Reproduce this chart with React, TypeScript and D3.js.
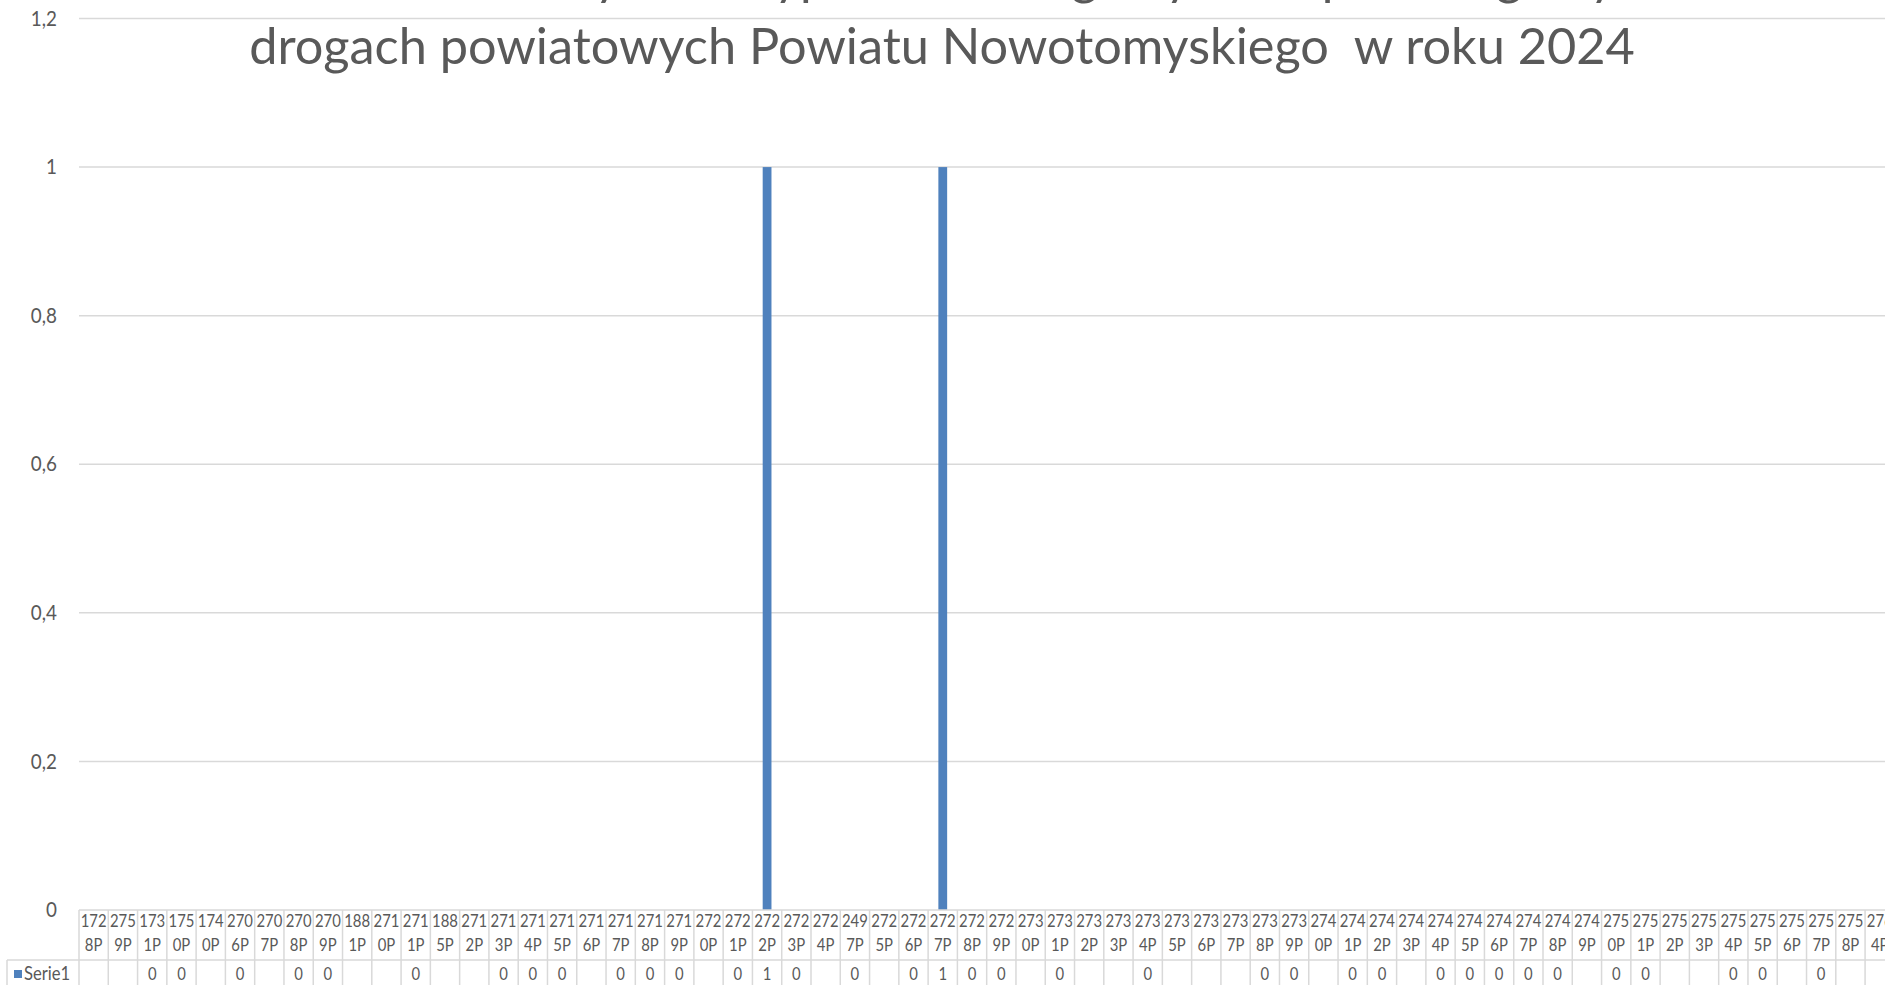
import { useRef, useEffect } from 'react';
import * as d3 from 'd3';

const categories = [
  '1728P', '2759P', '1731P', '1750P', '1740P', '2706P', '2707P', '2708P', '2709P', '1881P',
  '2710P', '2711P', '1885P', '2712P', '2713P', '2714P', '2715P', '2716P', '2717P', '2718P',
  '2719P', '2720P', '2721P', '2722P', '2723P', '2724P', '2497P', '2725P', '2726P', '2727P',
  '2728P', '2729P', '2730P', '2731P', '2732P', '2733P', '2734P', '2735P', '2736P', '2737P',
  '2738P', '2739P', '2740P', '2741P', '2742P', '2743P', '2744P', '2745P', '2746P', '2747P',
  '2748P', '2749P', '2750P', '2751P', '2752P', '2753P', '2754P', '2755P', '2756P', '2757P',
  '2758P', '2764P',
];

// null = empty cell in the data table
const serie1: (number | null)[] = [
  null, null, 0, 0, null, 0, null, 0, 0, null,
  null, 0, null, null, 0, 0, 0, null, 0, 0,
  0, null, 0, 1, 0, null, 0, null, 0, 1,
  0, 0, null, 0, null, null, 0, null, null, null,
  0, 0, null, 0, 0, null, 0, 0, 0, 0,
  0, null, 0, 0, null, null, 0, 0, null, 0,
  null, null,
];

const seriesName = 'Serie1';
const yTicks = [0, 0.2, 0.4, 0.6, 0.8, 1, 1.2];
const titleLines = [
  'Liczba osób zabitych w wypadkach drogowych na poszczególnych',
  'drogach powiatowych Powiatu Nowotomyskiego  w roku 2024',
];

const W = 1885;
const H = 985;
const FONT = 'Lato, "Open Sans", sans-serif';
const TEXT = '#595959';
const GRID = '#d9d9d9';
const BLUE = '#4f81bd';

const fmt = (v: number) => String(+v.toFixed(1)).replace('.', ',');

const Chart = () => {
  const ref = useRef<SVGSVGElement>(null);

  useEffect(() => {
    const svg = d3.select(ref.current);
    svg.selectAll('*').remove();

    const left = 79;
    const step = 29.28;
    const right = left + categories.length * step;
    const tableTop = 910;
    const rowSplit = 960;
    const tableBottom = 1010;

    const y = d3.scaleLinear().domain([0, 1.2]).range([tableTop, 18.5]);
    const col = d3.scaleBand().domain(categories).range([left, right]).padding(0);
    const bar = d3.scaleBand().domain(categories).range([left, right])
      .paddingInner(0.7).paddingOuter(0.35);

    // gridlines
    svg.append('g')
      .selectAll('line')
      .data(yTicks.slice(1))
      .enter().append('line')
      .attr('x1', left).attr('x2', right)
      .attr('y1', d => y(d)).attr('y2', d => y(d))
      .attr('stroke', GRID).attr('stroke-width', 1.5);

    // y tick labels
    svg.append('g')
      .selectAll('text')
      .data(yTicks)
      .enter().append('text')
      .attr('transform', d => `translate(57,${y(d)}) scale(0.92,1)`)
      .attr('text-anchor', 'end')
      .attr('dy', '0.35em')
      .attr('font-family', FONT)
      .attr('font-size', 20.5)
      .attr('fill', TEXT)
      .text(d => fmt(d));

    // bars
    const data = categories.map((c, i) => ({ c, v: serie1[i] }));
    svg.append('g')
      .selectAll('rect')
      .data(data.filter(d => d.v !== null && d.v > 0))
      .enter().append('rect')
      .attr('x', d => bar(d.c)!)
      .attr('width', bar.bandwidth())
      .attr('y', d => y(d.v as number))
      .attr('height', d => y(0) - y(d.v as number))
      .attr('fill', BLUE);

    // data table
    const table = svg.append('g');
    const border = (x1: number, y1: number, x2: number, y2: number) =>
      table.append('line')
        .attr('x1', x1).attr('y1', y1).attr('x2', x2).attr('y2', y2)
        .attr('stroke', GRID).attr('stroke-width', 1.5);

    border(left, tableTop, right, tableTop);
    border(7, rowSplit, right, rowSplit);
    border(7, rowSplit, 7, tableBottom);
    categories.forEach(c => border(col(c)!, tableTop, col(c)!, tableBottom));
    border(right, tableTop, right, tableBottom);

    const cellText = (sel: any) => sel
      .attr('text-anchor', 'middle')
      .attr('dy', '0.35em')
      .attr('font-family', FONT)
      .attr('font-size', 17.5)
      .attr('fill', TEXT);

    table.selectAll('text.l1')
      .data(categories)
      .enter().append('text')
      .attr('class', 'l1')
      .attr('transform', d => `translate(${col(d)! + step / 2},921) scale(0.85,1)`)
      .call(cellText)
      .text(d => d.slice(0, 3));

    table.selectAll('text.l2')
      .data(categories)
      .enter().append('text')
      .attr('class', 'l2')
      .attr('transform', d => `translate(${col(d)! + step / 2},945) scale(0.85,1)`)
      .call(cellText)
      .text(d => d.slice(3));

    table.selectAll('text.v')
      .data(data.filter(d => d.v !== null))
      .enter().append('text')
      .attr('class', 'v')
      .attr('transform', d => `translate(${col(d.c)! + step / 2},974) scale(0.85,1)`)
      .call(cellText)
      .text(d => String(d.v));

    // legend key in the table
    table.append('rect')
      .attr('x', 14).attr('y', 970).attr('width', 8).attr('height', 8)
      .attr('fill', BLUE);
    table.append('text')
      .attr('transform', 'translate(24,974) scale(0.9,1)')
      .attr('dy', '0.35em')
      .attr('font-family', FONT)
      .attr('font-size', 18.5)
      .attr('fill', TEXT)
      .text(seriesName);

    // title, squeezed to the width of the original second line
    const title = svg.append('g');
    const t2 = title.append('text')
      .attr('font-family', FONT)
      .attr('font-size', 51)
      .attr('fill', TEXT)
      .style('white-space', 'pre')
      .text(titleLines[1]);
    const natural = (t2.node() as SVGTextElement).getComputedTextLength();
    const sx = 1386 / natural;
    t2.attr('text-anchor', 'middle')
      .attr('transform', `translate(942,64) scale(${sx},1)`);
    title.append('text')
      .attr('text-anchor', 'middle')
      .attr('transform', `translate(942,-6) scale(${sx},1)`)
      .attr('font-family', FONT)
      .attr('font-size', 51)
      .attr('fill', TEXT)
      .style('white-space', 'pre')
      .text(titleLines[0]);
  }, []);

  return (
    <svg
      ref={ref}
      width={W}
      height={H}
      style={{ position: 'absolute', left: 0, top: 0, display: 'block', background: '#fff' }}
    ></svg>
  );
};

export default function App() {
  return <Chart />;
}
